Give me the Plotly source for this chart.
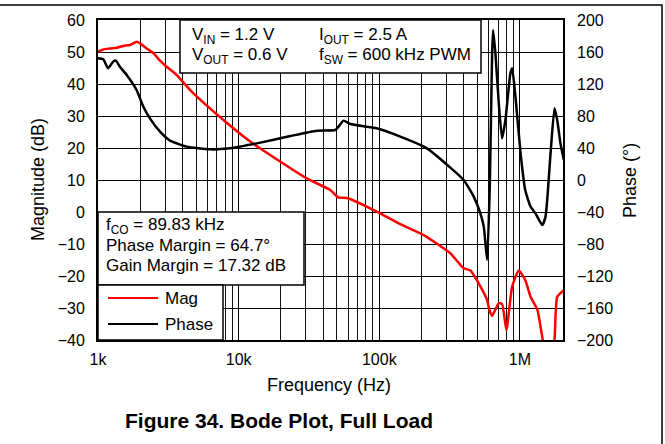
import plotly.graph_objects as go

# ---- data ----
mag_freq = [1000, 1090, 1220, 1360, 1510, 1690, 1880, 1990, 2220, 2480, 2760, 3080, 3630, 4520,
            7800, 12100, 30500, 44800, 51000, 60000, 96000, 141000, 207000, 320000, 398000, 444000,
            524000, 584000, 605000, 634000, 707000, 746000, 801000, 880000, 981000, 1090000, 1190000,
            1330000, 1440000, 1500000, 1700000, 1760000, 1840000, 2050000]
mag_db = [50.1, 50.8, 51.1, 51.35, 51.9, 52.2, 53.2, 52.7, 51.1, 49.6, 47.3, 45.4, 42.8, 38.1,
          28.75, 22.0, 10.5, 6.9, 4.6, 4.3, 0.1, -3.8, -7.2, -12.9, -17.6, -18.3,
          -23.3, -27.5, -30.5, -32.5, -28.5, -28.75, -36.9, -23.3, -18.3, -21.25, -26.5,
          -30.6, -39.0, -43.0, -43.0, -40.0, -26.5, -24.4]

phase_freq = [1000, 1090, 1180, 1280, 1340, 1430, 1600, 1880, 2100, 2340, 2760, 3250, 4270, 6270,
              8700, 13500, 23300, 36000, 48600, 51300, 55700, 62200, 96000, 141000, 218000, 320000,
              398000, 469000, 523000, 553000, 584000, 610000, 634000, 644000, 669000, 707000, 746000,
              788000, 855000, 880000, 929000, 1010000, 1090000, 1190000, 1290000, 1440000, 1520000,
              1650000, 1760000, 1840000, 1940000, 2050000]
phase_deg = [152.1, 150.8, 139.6, 147.9, 149.2, 141.7, 131.25, 112.5, 91.7, 77.1, 60.4, 49.2, 41.7, 38.3,
             39.6, 45.8, 55.0, 61.7, 62.5, 66.7, 74.2, 70.0, 64.6, 54.2, 39.6, 15.5,
             0.0, -20.8, -41.7, -58.3, -100.0, -8.3, 158.3, 187.5, 158.3, 95.8, 52.1,
             75.0, 133.3, 139.6, 104.2, 33.3, -12.5, -33.3, -41.7, -56.25, -45.8,
             33.3, 89.6, 75.0, 45.8, 25.0]

x_tickvals = [1e3, 1e4, 1e5, 1e6]
x_ticktext = ["1k", "10k", "100k", "1M"]
mag_ticks = [60, 50, 40, 30, 20, 10, 0, -10, -20, -30, -40]
phase_ticks = [200, 160, 120, 80, 40, 0, -40, -80, -120, -160, -200]

minor_vals = [m * d for d in (1e3, 1e4, 1e5, 1e6) for m in range(2, 10)]

FONT = "Liberation Sans, Arial, sans-serif"

fig = go.Figure()
fig.add_trace(go.Scatter(x=mag_freq, y=mag_db, mode="lines", name="Mag",
                         line=dict(color="#ff0000", width=2.5, shape="spline", smoothing=0.5),
                         showlegend=False))
fig.add_trace(go.Scatter(x=phase_freq, y=phase_deg, mode="lines", name="Phase", yaxis="y2",
                         line=dict(color="black", width=2.5, shape="spline", smoothing=0.5),
                         showlegend=False))

fig.update_layout(
    width=665, height=444,
    margin=dict(l=98, r=102, t=20, b=104),
    paper_bgcolor="white", plot_bgcolor="white",
    font=dict(family=FONT, size=16, color="black"),
    xaxis=dict(type="log", range=[3, 6.306], tickvals=x_tickvals, ticktext=x_ticktext,
               showgrid=True, gridcolor="black", gridwidth=1,
               minor=dict(tickvals=minor_vals, showgrid=True, gridcolor="#111", gridwidth=1, ticks=""),
               showline=True, linecolor="black", linewidth=2, mirror=True,
               ticks="", ticklabelstandoff=4, zeroline=False),
    yaxis=dict(range=[-40, 60], tickvals=mag_ticks, showgrid=True, gridcolor="black", gridwidth=1,
               showline=True, linecolor="black", linewidth=2, mirror=True,
               ticks="", ticklabelstandoff=8, zeroline=False),
    yaxis2=dict(range=[-200, 200], tickvals=phase_ticks, overlaying="y", side="right",
                showgrid=False, zeroline=False, ticks="", ticklabelstandoff=13,
                showline=False),
)

shapes = []
# outer frame (top and right edges visible)
shapes.append(dict(type="rect", xref="paper", yref="paper", x0=-0.4, x1=1.2129, y0=-0.6, y1=1.047,
                   fillcolor="rgba(0,0,0,0)", line=dict(color="black", width=1.5), layer="below"))
# top info box
shapes.append(dict(type="rect", xref="paper", yref="paper", x0=0.1763, x1=0.8237, y0=0.834, y1=1.0,
                   fillcolor="white", line=dict(color="black", width=1.5), layer="above"))
# bottom-left info box
shapes.append(dict(type="rect", xref="paper", yref="paper", x0=0.0, x1=0.443, y0=0.1719, y1=0.4,
                   fillcolor="white", line=dict(color="black", width=1.5), layer="above"))
# legend box
shapes.append(dict(type="rect", xref="paper", yref="paper", x0=0.0, x1=0.2688, y0=0.0, y1=0.1719,
                   fillcolor="white", line=dict(color="black", width=1.5), layer="above"))
shapes.append(dict(type="line", xref="paper", yref="paper", x0=0.0215, x1=0.129, y0=0.131, y1=0.131,
                   line=dict(color="#ff0000", width=2), layer="above"))
shapes.append(dict(type="line", xref="paper", yref="paper", x0=0.0215, x1=0.129, y0=0.05, y1=0.05,
                   line=dict(color="black", width=2), layer="above"))
fig.update_layout(shapes=shapes)

def ann(text, x, y, xanchor="left", size=17, **kw):
    return dict(text=text, x=x, y=y, xref="paper", yref="paper", xanchor=xanchor, yanchor="middle",
                showarrow=False, font=dict(family=FONT, size=size, color="black"), **kw)

annotations = [
    ann("V<sub>IN</sub> = 1.2 V", 0.1978, 0.95),
    ann("V<sub>OUT</sub> = 0.6 V", 0.1978, 0.888),
    ann("I<sub>OUT</sub> = 2.5 A", 0.471, 0.95),
    ann("f<sub>SW</sub> = 600 kHz PWM", 0.471, 0.888),
    ann("f<sub>CO</sub> = 89.83 kHz", 0.013, 0.356),
    ann("Phase Margin = 64.7°", 0.013, 0.295),
    ann("Gain Margin = 17.32 dB", 0.013, 0.232),
    ann("Mag", 0.14, 0.131),
    ann("Phase", 0.14, 0.05),
    ann("Magnitude (dB)", -0.129, 0.5, xanchor="center", size=18, textangle=-90),
    ann("Phase (°)", 1.144, 0.5, xanchor="center", size=18, textangle=-90),
    ann("Frequency (Hz)", 0.496, -0.1406, xanchor="center", size=18),
    ann("<b>Figure 34. Bode Plot, Full Load</b>", 0.3895, -0.25, xanchor="center", size=21),
]
fig.update_layout(annotations=annotations)

fig.write_html("out.html", config={"displayModeBar": False},
               post_script="document.body.style.margin='0';")
